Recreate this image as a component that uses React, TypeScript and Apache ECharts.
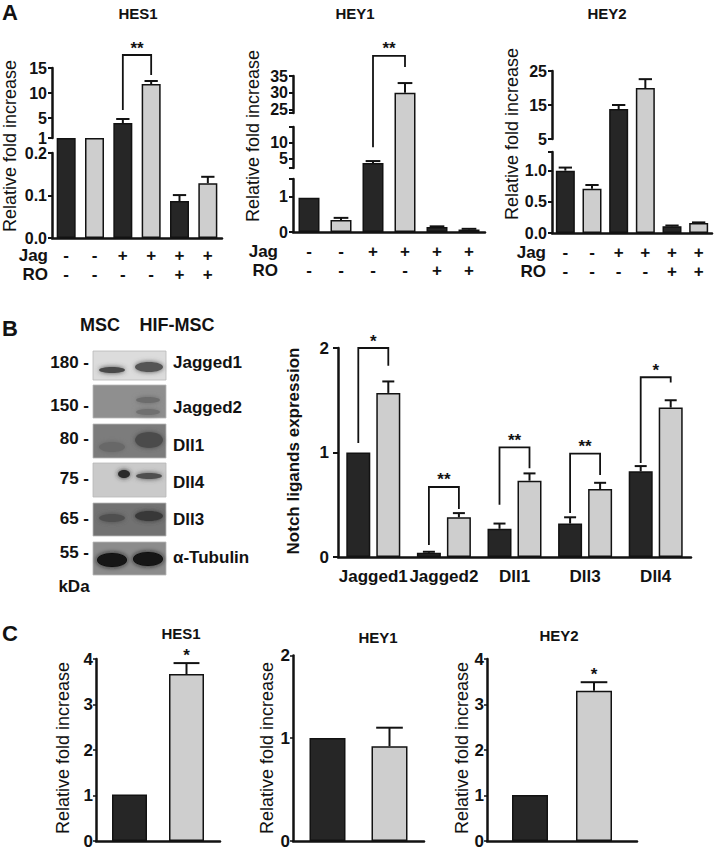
import React, { useEffect, useRef } from 'react';
import * as echarts from 'echarts';

const FONT = 'Liberation Sans, Arial, Helvetica, sans-serif';
const INK = '#121212';
const DARK = '#262626';
const LIGHT = '#cecece';

// ---------------- Panel A data ----------------
const A_JAG = ['-', '-', '+', '+', '+', '+'];
const A_RO = ['-', '-', '-', '-', '+', '+'];

const A_HES1_VALUES = [1.0, 1.02, 4.0, 11.8, 0.087, 0.129];
const A_HES1_ERRORS = [0, 0, 0.8, 0.6, 0.014, 0.015];
const A_HES1_TICKS = [[0, 0.1, 0.2], [1, 5, 10, 15]];
const A_HES1_BRACKET = [2, 3, 17.6, 6.6, 13.6];

const A_HEY1_VALUES = [0.97, 0.34, 3.6, 30, 0.14, 0.07];
const A_HEY1_ERRORS = [0, 0.06, 0.6, 2.9, 0.02, 0.02];
const A_HEY1_TICKS = [[0, 1], [5, 10], [25, 30, 35]];
const A_HEY1_BRACKET = [2, 3, 41, 8.6, 37.7];

const A_HEY2_VALUES = [1.0, 0.71, 13.8, 20.0, 0.11, 0.16];
const A_HEY2_ERRORS = [0.05, 0.06, 1.2, 2.6, 0.01, 0.01];
const A_HEY2_TICKS = [[0, 0.5, 1.0], [5, 15, 25]];

// ---------------- Panel B data ----------------
const B_CATEGORIES = ['Jagged1', 'Jagged2', 'Dll1', 'Dll3', 'Dll4'];
const B_MSC = [1.0, 0.04, 0.27, 0.32, 0.82];
const B_MSC_ERR = [0, 0.01, 0.05, 0.06, 0.05];
const B_HIF = [1.57, 0.38, 0.73, 0.65, 1.43];
const B_HIF_ERR = [0.11, 0.04, 0.07, 0.06, 0.07];
const B_SIG = ['*', '**', '**', '**', '*'];
const B_BRACKET_LEVEL = [2.0, 0.67, 1.05, 0.99, 1.72];
const B_BRACKET_LEFT_END = [1.09, 0.115, 0.5, 0.42, 0.9];
const B_BRACKET_RIGHT_END = [1.83, 0.46, 0.85, 0.785, 1.67];
const BLOT_LANES = ['MSC', 'HIF-MSC'];
const BLOT_PROTEINS = ['Jagged1', 'Jagged2', 'Dll1', 'Dll4', 'Dll3', 'α-Tubulin'];
const BLOT_KDA = ['180 -', '150 -', '80 -', '75 -', '65 -', '55 -'];

// ---------------- Panel C data ----------------
const C_GENES = ['HES1', 'HEY1', 'HEY2'];
const C_MSC = [1.02, 1.0, 1.01];
const C_HIF = [3.67, 0.92, 3.3];
const C_HIF_ERR = [0.24, 0.18, 0.19];
const C_SIG = ['*', '', '*'];

type Seg = { min: number; max: number; lo: number; hi: number };

function makeDisp(segs: Seg[]) {
  return (v: number) => {
    for (let i = 0; i < segs.length; i++) {
      const s = segs[i];
      if (v < s.min) {
        if (i === 0) return s.lo;
        const p = segs[i - 1];
        return p.hi + ((v - p.max) / (s.min - p.max)) * (s.lo - p.hi);
      }
      if (v <= s.max || i === segs.length - 1) {
        return s.lo + ((v - s.min) / (s.max - s.min)) * (s.hi - s.lo);
      }
    }
    return 0;
  };
}

const txt = (size: number, bold = true) => ({
  fontFamily: FONT,
  fontSize: size,
  fontWeight: bold ? 'bold' : 'normal',
  color: INK,
});

function buildOption() {
  const grids: any[] = [];
  const xAxes: any[] = [];
  const yAxes: any[] = [];
  const series: any[] = [];
  const graphics: any[] = [];

  const addGrid = (g: any) => {
    grids.push({ ...g, containLabel: false, outerBoundsMode: 'none' });
    return grids.length - 1;
  };
  const addX = (a: any) => xAxes.push(a) - 1;
  const addY = (a: any) => yAxes.push(a) - 1;

  const T = (text: string, x: number, y: number, size: number, opts: any = {}) => {
    graphics.push({
      type: 'text',
      x,
      y,
      rotation: opts.rotation || 0,
      z: 10,
      style: {
        text,
        fill: INK,
        fontFamily: FONT,
        fontSize: size,
        fontWeight: opts.bold === false ? 'normal' : 'bold',
        align: opts.align || 'center',
        verticalAlign: 'middle',
      },
    });
  };

  const errRenderer = (capHalf: number, dx: number, stars?: string[]) => (params: any, api: any) => {
    const x = api.value(0);
    const y0 = api.value(1);
    const y1 = api.value(2);
    const children: any[] = [];
    if (y1 > y0) {
      const p0 = api.coord([x, y0]);
      const p1 = api.coord([x, y1]);
      const cx = p0[0] + dx;
      const st = { stroke: INK, lineWidth: 2 };
      children.push({ type: 'line', shape: { x1: cx, y1: p0[1], x2: cx, y2: p1[1] }, style: st });
      children.push({ type: 'line', shape: { x1: cx - capHalf, y1: p1[1], x2: cx + capHalf, y2: p1[1] }, style: st });
      const s = stars ? stars[params.dataIndex] : '';
      if (s) {
        children.push({
          type: 'text',
          x: cx,
          y: p1[1] - 8,
          style: { text: s, fill: INK, fontFamily: FONT, fontSize: 17, fontWeight: 'bold', align: 'center', verticalAlign: 'middle' },
        });
      }
    }
    return { type: 'group', children };
  };

  const bracketRenderer = (labels: string[], dxL: number, dxR: number) => (params: any, api: any) => {
    const f = api.value(0);
    const t = api.value(1);
    const lv = api.value(2);
    const le = api.value(3);
    const re = api.value(4);
    const a = api.coord([f, lv]);
    const b = api.coord([t, lv]);
    const yl = api.coord([f, le])[1];
    const yr = api.coord([t, re])[1];
    const xl = a[0] + dxL;
    const xr = b[0] + dxR;
    return {
      type: 'group',
      children: [
        {
          type: 'polyline',
          shape: { points: [[xl, yl], [xl, a[1]], [xr, a[1]], [xr, yr]] },
          style: { stroke: INK, lineWidth: 1.8, fill: null },
        },
        {
          type: 'text',
          x: (xl + xr) / 2,
          y: a[1] - 7,
          style: { text: labels[params.dataIndex], fill: INK, fontFamily: FONT, fontSize: 17, fontWeight: 'bold', align: 'center', verticalAlign: 'middle' },
        },
      ],
    };
  };

  const axisLine = { show: true, lineStyle: { color: INK, width: 2.5 } };

  // ---------------- Panel A ----------------
  const SPAN = 212;
  const panelA = (cfg: {
    values: number[];
    errors: number[];
    ticks: number[][];
    decimals: number[];
    segs: Seg[];
    base: number;
    left: number;
    width: number;
    barWidth: number;
    labelMargin: number;
    bracket?: number[];
    title: string;
    titleX: number;
    yLabelX: number;
    yLabelY: number;
    rowLabelX: number;
  }) => {
    const disp = makeDisp(cfg.segs);
    const gi = addGrid({ left: cfg.left, top: cfg.base - SPAN, width: cfg.width, height: SPAN });
    const xi = addX({
      gridIndex: gi,
      type: 'category',
      data: cfg.values.map((_, i) => String(i)),
      axisLine,
      axisTick: { show: false },
      axisLabel: {
        interval: 0,
        formatter: (_v: string, i: number) => `${A_JAG[i]}\n${A_RO[i]}`,
        ...txt(17),
        lineHeight: 19,
        margin: cfg.labelMargin,
      },
    });
    const yi = addY({ gridIndex: gi, type: 'value', min: 0, max: SPAN, show: false });
    series.push({
      type: 'bar',
      xAxisIndex: xi,
      yAxisIndex: yi,
      barWidth: cfg.barWidth,
      data: cfg.values.map((v, i) => ({ value: disp(v), itemStyle: { color: i % 2 === 0 ? DARK : LIGHT } })),
      itemStyle: { borderColor: INK, borderWidth: 1.5 },
      z: 2,
    });
    series.push({
      type: 'custom',
      xAxisIndex: xi,
      yAxisIndex: yi,
      data: cfg.values.map((v, i) => [i, disp(v), disp(v + cfg.errors[i])]),
      encode: { x: 0, y: [1, 2] },
      renderItem: errRenderer(cfg.barWidth * 0.35, 0),
      z: 3,
    });
    if (cfg.bracket) {
      const [f, t, lv, le, re] = cfg.bracket;
      series.push({
        type: 'custom',
        xAxisIndex: xi,
        yAxisIndex: yi,
        data: [[f, t, disp(lv), disp(le), disp(re)]],
        encode: { x: [0, 1], y: [2, 3, 4] },
        renderItem: bracketRenderer(['**'], 0, 0),
        z: 3,
      });
    }
    cfg.segs.forEach((s, k) => {
      const g = addGrid({ left: cfg.left, width: cfg.width, top: cfg.base - s.hi, height: s.hi - s.lo });
      addX({ gridIndex: g, type: 'value', show: false });
      const labs = cfg.ticks[k];
      const tickVals = Array.from(new Set([s.min, ...labs, s.max]));
      // segment axis line + ticks
      addY({
        gridIndex: g,
        type: 'value',
        min: s.min,
        max: s.max,
        axisLine,
        axisTick: { show: true, customValues: tickVals, length: 4, lineStyle: { color: INK, width: 2 } },
        axisLabel: { show: false },
        splitLine: { show: false },
      });
      // one label axis per tick label, so that closely packed labels all stay visible
      labs.forEach((lab) => {
        addY({
          gridIndex: g,
          type: 'value',
          position: 'left',
          offset: 0,
          min: s.min,
          max: s.max,
          axisLine: { show: false },
          axisTick: { show: false },
          axisLabel: {
            customValues: [lab],
            formatter: (v: number) => Number(v).toFixed(cfg.decimals[k]),
            ...txt(16),
            lineHeight: 12,
            margin: 5,
            showMinLabel: true,
            showMaxLabel: true,
          },
          splitLine: { show: false },
        });
      });
    });
    T(cfg.title, cfg.titleX, 13, 15);
    T('Relative fold increase', cfg.yLabelX, cfg.yLabelY, 18, { rotation: Math.PI / 2, bold: false });
    const rowY = cfg.base + cfg.labelMargin + 9.5;
    T('Jag', cfg.rowLabelX, rowY, 17, { align: 'right' });
    T('RO', cfg.rowLabelX, rowY + 19, 17, { align: 'right' });
  };

  panelA({
    values: A_HES1_VALUES,
    errors: A_HES1_ERRORS,
    ticks: A_HES1_TICKS,
    decimals: [1, 0],
    segs: [
      { min: 0, max: 0.2, lo: 0, hi: 85 },
      { min: 1, max: 15, lo: 100, hi: 170 },
    ],
    base: 238,
    left: 52,
    width: 170,
    barWidth: 19,
    labelMargin: 8,
    bracket: A_HES1_BRACKET,
    title: 'HES1',
    titleX: 138,
    yLabelX: 10,
    yLabelY: 146,
    rowLabelX: 48,
  });
  panelA({
    values: A_HEY1_VALUES,
    errors: A_HEY1_ERRORS,
    ticks: A_HEY1_TICKS,
    decimals: [0, 0, 0],
    segs: [
      { min: 0, max: 1.5, lo: 0, hi: 53 },
      { min: 2, max: 15, lo: 64, hi: 105 },
      { min: 24, max: 35, lo: 119, hi: 156 },
    ],
    base: 232,
    left: 293,
    width: 192,
    barWidth: 21,
    labelMargin: 10,
    bracket: A_HEY1_BRACKET,
    title: 'HEY1',
    titleX: 355,
    yLabelX: 253,
    yLabelY: 136,
    rowLabelX: 278,
  });
  panelA({
    values: A_HEY2_VALUES,
    errors: A_HEY2_ERRORS,
    ticks: A_HEY2_TICKS,
    decimals: [1, 0],
    segs: [
      { min: 0, max: 1.3, lo: 0, hi: 81 },
      { min: 5, max: 25, lo: 94, hi: 162 },
    ],
    base: 233,
    left: 552,
    width: 160,
    barWidth: 19,
    labelMargin: 10,
    title: 'HEY2',
    titleX: 607,
    yLabelX: 512,
    yLabelY: 134,
    rowLabelX: 546,
  });
  T('A', 10, 12, 22);

  // ---------------- Panel B : blot ----------------
  T('B', 10, 328, 22);
  T(BLOT_LANES[0], 100, 325, 18);
  T(BLOT_LANES[1], 177, 325, 18);
  const blotRows = [
    { y: 351, h: 29, bg: '#dcdcdc', bands: [[112, 370, 13, 3, '#4a4a4a'], [149, 367, 14, 5, '#555555']] },
    { y: 385, h: 33, bg: '#8f8f8f', bands: [[148, 400, 12, 3, '#6c6c6c'], [148, 412, 12, 3, '#707070']] },
    { y: 424, h: 34, bg: '#7c7c7c', bands: [[112, 447, 13, 5, '#686868'], [149, 440, 14, 8, '#4c4c4c']] },
    { y: 463, h: 34, bg: '#cacaca', bands: [[124, 474, 6, 4, '#2a2a2a'], [149, 476, 13, 3, '#505050']] },
    { y: 503, h: 33, bg: '#727272', bands: [[112, 518, 13, 4, '#505050'], [149, 516, 14, 5, '#383838']] },
    { y: 542, h: 33, bg: '#8c8c8c', bands: [[112, 560, 15, 7, '#121212'], [148, 559, 15, 7, '#121212']] },
  ];
  const labelY = [362, 407, 445, 482, 519, 557];
  const kdaY = [362, 405, 438, 478, 518, 552];
  blotRows.forEach((r, i) => {
    graphics.push({ type: 'rect', shape: { x: 93, y: r.y, width: 73, height: r.h }, style: { fill: r.bg, stroke: '#b8b8b8', lineWidth: 0.8 }, z: 5 });
    r.bands.forEach((b: any) => {
      graphics.push({
        type: 'ellipse',
        shape: { cx: b[0], cy: b[1], rx: b[2], ry: b[3] },
        style: { fill: b[4], shadowBlur: 5, shadowColor: b[4] },
        z: 6,
      });
    });
    T(BLOT_PROTEINS[i], 173, labelY[i], 17, { align: 'left' });
    T(BLOT_KDA[i], 89, kdaY[i], 17, { align: 'right' });
  });
  T('kDa', 74, 586, 17);

  // ---------------- Panel B : bar chart ----------------
  {
    const bw = 24;
    const gap = 6;
    const off = (bw + gap) / 2;
    const gi = addGrid({ left: 338, top: 348, width: 353, height: 209 });
    const xi = addX({
      gridIndex: gi,
      type: 'category',
      data: B_CATEGORIES,
      axisLine,
      axisTick: { show: false },
      axisLabel: { interval: 0, ...txt(17), margin: 11 },
    });
    const yi = addY({
      gridIndex: gi,
      type: 'value',
      min: 0,
      max: 2,
      interval: 1,
      axisLine,
      axisTick: { show: true, length: 5, lineStyle: { color: INK, width: 2 } },
      axisLabel: { ...txt(17), margin: 9 },
      splitLine: { show: false },
    });
    const barStyle = (c: string) => ({ color: c, borderColor: INK, borderWidth: 1.5 });
    series.push({ type: 'bar', name: 'MSC', xAxisIndex: xi, yAxisIndex: yi, barWidth: bw, barGap: `${(gap / bw) * 100}%`, data: B_MSC, itemStyle: barStyle(DARK), z: 2 });
    series.push({ type: 'bar', name: 'HIF-MSC', xAxisIndex: xi, yAxisIndex: yi, barWidth: bw, barGap: `${(gap / bw) * 100}%`, data: B_HIF, itemStyle: barStyle(LIGHT), z: 2 });
    series.push({
      type: 'custom', xAxisIndex: xi, yAxisIndex: yi,
      data: B_MSC.map((v, i) => [i, v, v + B_MSC_ERR[i]]),
      encode: { x: 0, y: [1, 2] },
      renderItem: errRenderer(6, -off), z: 3,
    });
    series.push({
      type: 'custom', xAxisIndex: xi, yAxisIndex: yi,
      data: B_HIF.map((v, i) => [i, v, v + B_HIF_ERR[i]]),
      encode: { x: 0, y: [1, 2] },
      renderItem: errRenderer(6, off), z: 3,
    });
    series.push({
      type: 'custom', xAxisIndex: xi, yAxisIndex: yi,
      data: B_CATEGORIES.map((_, i) => [i, i, B_BRACKET_LEVEL[i], B_BRACKET_LEFT_END[i], B_BRACKET_RIGHT_END[i]]),
      encode: { x: [0, 1], y: [2, 3, 4] },
      renderItem: bracketRenderer(B_SIG, -off, off), z: 3,
    });
    T('Notch ligands expression', 293, 451, 17, { rotation: Math.PI / 2 });
  }

  // ---------------- Panel C ----------------
  T('C', 10, 633, 22);
  const panelCCfg = [
    { left: 96, width: 124, max: 4, unit: 45.5, labels: [0, 1, 2, 3, 4], bw: 35, gap: 22, titleX: 181, titleY: 633, yLabelX: 63 },
    // the reference axis tops out at its "2" label 0.8 units above the 1 tick
    { left: 293, width: 131, max: 1.8, unit: 103, labels: [0, 1, 1.8], bw: 36, gap: 26, titleX: 378, titleY: 637, yLabelX: 267 },
    { left: 487, width: 150, max: 4, unit: 45.5, labels: [0, 1, 2, 3, 4], bw: 36, gap: 28, titleX: 559, titleY: 635, yLabelX: 462 },
  ];
  panelCCfg.forEach((c, k) => {
    const base = 841;
    const h = c.max * c.unit;
    const gi = addGrid({ left: c.left, top: base - h, width: c.width, height: h });
    const xi = addX({ gridIndex: gi, type: 'category', data: [C_GENES[k]], axisLine, axisTick: { show: false }, axisLabel: { show: false } });
    const yi = addY({
      gridIndex: gi,
      type: 'value',
      min: 0,
      max: c.max,
      axisLine,
      axisTick: { show: true, customValues: c.labels, length: 3, lineStyle: { color: INK, width: 1.5 } },
      axisLabel: {
        customValues: c.labels,
        formatter: (v: number) => (v > 1.5 && c.max < 2 ? '2' : String(Math.round(v))),
        ...txt(17),
        margin: 3,
        showMinLabel: true,
        showMaxLabel: true,
      },
      splitLine: { show: false },
    });
    const off = (c.bw + c.gap) / 2;
    const bg = `${(c.gap / c.bw) * 100}%`;
    series.push({ type: 'bar', name: 'MSC', xAxisIndex: xi, yAxisIndex: yi, barWidth: c.bw, barGap: bg, data: [C_MSC[k]], itemStyle: { color: DARK, borderColor: INK, borderWidth: 1.5 }, z: 2 });
    series.push({ type: 'bar', name: 'HIF-MSC', xAxisIndex: xi, yAxisIndex: yi, barWidth: c.bw, barGap: bg, data: [C_HIF[k]], itemStyle: { color: LIGHT, borderColor: INK, borderWidth: 1.5 }, z: 2 });
    series.push({
      type: 'custom', xAxisIndex: xi, yAxisIndex: yi,
      data: [[0, C_HIF[k], C_HIF[k] + C_HIF_ERR[k]]],
      encode: { x: 0, y: [1, 2] },
      renderItem: errRenderer(c.bw * 0.37, off, [C_SIG[k]]), z: 3,
    });
    T(C_GENES[k], c.titleX, c.titleY, 15);
    T('Relative fold increase', c.yLabelX, 748, 18, { rotation: Math.PI / 2, bold: false });
  });

  return {
    animation: false,
    backgroundColor: '#ffffff',
    grid: grids,
    xAxis: xAxes,
    yAxis: yAxes,
    series,
    graphic: { elements: graphics },
  };
}

export default function App() {
  const ref = useRef<HTMLDivElement>(null);
  useEffect(() => {
    if (!ref.current) return;
    const chart = echarts.init(ref.current, null, { renderer: 'svg' });
    chart.setOption(buildOption() as any);
    return () => chart.dispose();
  }, []);
  return (
    <div
      ref={ref}
      style={{ position: 'absolute', left: 0, top: 0, width: 714, height: 852, background: '#fff' }}
    />
  );
}
